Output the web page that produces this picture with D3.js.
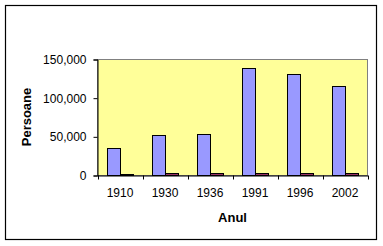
<!DOCTYPE html>
<meta charset="utf-8">
<style>
  body { margin: 0; background: #fff; }
  text { font-family: Arial, "Liberation Sans", sans-serif; }
</style>
<body>
<script src="https://d3js.org/d3.v7.min.js"></script>
<script>
  var years = ["1910", "1930", "1936", "1991", "1996", "2002"];
  var total = [36200, 51800, 54300, 138500, 130700, 115200];
  var other = [1500, 3000, 3000, 3000, 3000, 3000];
  var yTicks = [0, 50000, 100000, 150000];

  var width = 383, height = 246;
  var plot = {left: 97.5, right: 367.5, top: 59.5, bottom: 175.5};

  var svg = d3.select("body").append("svg")
    .attr("width", width)
    .attr("height", height);

  // chart border
  svg.append("rect")
    .attr("x", 5.5).attr("y", 5.5)
    .attr("width", 371).attr("height", 234)
    .attr("fill", "#fff")
    .attr("stroke", "#000")
    .attr("stroke-width", 1.2);

  var x = d3.scaleBand()
    .domain(years)
    .range([plot.left, plot.right]);

  var y = d3.scaleLinear()
    .domain([0, 150000])
    .range([plot.bottom, plot.top]);

  // plot area
  svg.append("rect")
    .attr("x", plot.left).attr("y", plot.top)
    .attr("width", plot.right - plot.left)
    .attr("height", plot.bottom - plot.top)
    .attr("fill", "#ffff99")
    .attr("stroke", "#808080")
    .attr("stroke-width", 1);

  // excel gap width 150%
  var bw = x.bandwidth() / 3.5;
  var off = bw * 0.75;

  svg.selectAll(".b1")
    .data(years)
    .enter().append("rect")
    .attr("class", "b1")
    .attr("x", function(d) { return Math.round(x(d) + off) + 0.5; })
    .attr("width", Math.round(bw))
    .attr("y", function(d, i) { return Math.round(y(total[i])) + 0.5; })
    .attr("height", function(d, i) { return plot.bottom - Math.round(y(total[i])) - 0.5; })
    .attr("fill", "#9999ff")
    .attr("stroke", "#000")
    .attr("stroke-width", 1);

  svg.selectAll(".b2")
    .data(years)
    .enter().append("rect")
    .attr("class", "b2")
    .attr("x", function(d) { return Math.round(x(d) + off) + Math.round(bw) + 0.5; })
    .attr("width", Math.round(bw))
    .attr("y", function(d, i) { return Math.round(y(other[i])) + 0.5; })
    .attr("height", function(d, i) { return Math.max(0, plot.bottom - Math.round(y(other[i])) - 0.5); })
    .attr("fill", "#993366")
    .attr("stroke", "#000")
    .attr("stroke-width", 1);

  // y axis
  var yAxis = d3.axisLeft(y)
    .tickValues(yTicks)
    .tickSize(4)
    .tickPadding(7)
    .tickFormat(d3.format(",d"));

  var gy = svg.append("g")
    .attr("transform", "translate(" + plot.left + ",0)")
    .call(yAxis);
  gy.select(".domain").attr("stroke", "#000");
  gy.selectAll("text").attr("font-size", 12).attr("fill", "#000")
    .style("font-family", "Arial, 'Liberation Sans', sans-serif");

  // x axis, ticks between categories
  var xAxis = d3.axisBottom(x).tickSize(0).tickPadding(13);
  var gx = svg.append("g")
    .attr("transform", "translate(0," + plot.bottom + ")")
    .call(xAxis);
  gx.select(".domain").attr("stroke", "#000");
  gx.selectAll("text").attr("font-size", 12).attr("fill", "#000")
    .style("font-family", "Arial, 'Liberation Sans', sans-serif");

  svg.selectAll(".xt")
    .data(years.concat(["end"]))
    .enter().append("line")
    .attr("class", "xt")
    .attr("x1", function(d, i) { return Math.round(plot.left + i * x.bandwidth()) + 0.5; })
    .attr("x2", function(d, i) { return Math.round(plot.left + i * x.bandwidth()) + 0.5; })
    .attr("y1", plot.bottom)
    .attr("y2", plot.bottom + 4)
    .attr("stroke", "#000");

  // axis titles
  svg.append("text")
    .attr("transform", "translate(31,117) rotate(-90)")
    .attr("text-anchor", "middle")
    .attr("font-size", 13)
    .attr("font-weight", "bold")
    .text("Persoane");

  svg.append("text")
    .attr("x", (plot.left + plot.right) / 2)
    .attr("y", 222)
    .attr("text-anchor", "middle")
    .attr("font-size", 13)
    .attr("font-weight", "bold")
    .text("Anul");
</script>
